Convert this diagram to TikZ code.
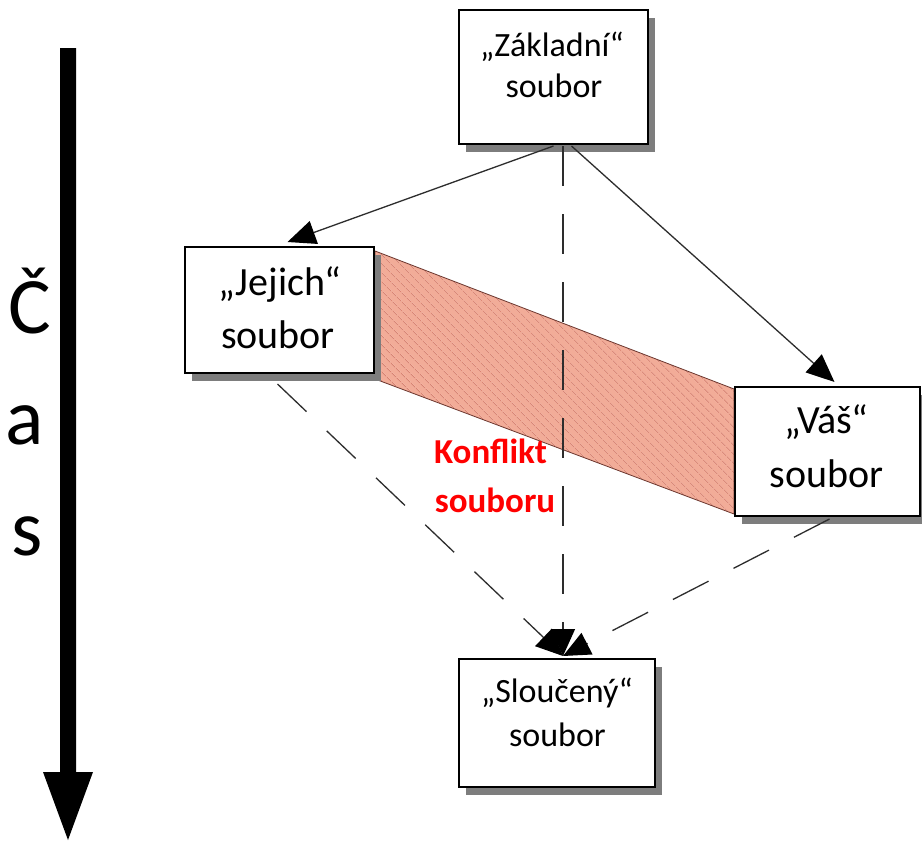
\documentclass[tikz,border=0pt]{standalone}
\usepackage{fontspec}
\setmainfont{Carlito}
\usetikzlibrary{arrows.meta,shadows,patterns.meta,calc}
\definecolor{conffill}{RGB}{242,172,152}
\definecolor{confline}{RGB}{196,100,86}
\definecolor{linegray}{RGB}{45,45,45}
\definecolor{shadowgray}{RGB}{125,125,125}
\begin{document}
\begin{tikzpicture}[x=1pt,y=-1pt,
  filebox/.style={draw=black, line width=2pt, fill=white, inner sep=0pt,
    drop shadow={shadow xshift=7pt, shadow yshift=-8pt, fill=shadowgray, opacity=1}},
  bigtxt/.style={font=\fontsize{40}{48}\selectfont, inner sep=0pt, anchor=base},
  smalltxt/.style={font=\fontsize{34}{41}\selectfont, inner sep=0pt, anchor=base},
  conftxt/.style={font=\fontsize{35}{41}\selectfont\bfseries, text=red, inner sep=0pt, anchor=base},
  timetxt/.style={font=\fontsize{80}{96}\selectfont, inner sep=0pt, anchor=base},
  solidarrow/.style={draw=linegray, line width=1.3pt,
    -{Triangle[length=28pt,width=24pt,color=black,fill=black]}},
  dasharrow/.style={draw=linegray, line width=1.3pt, dash pattern=on 40pt off 28pt,
    -{Triangle[length=27pt,width=24pt,color=black,fill=black]}}
]
\useasboundingbox (0,0) rectangle (922,841);
\fill[white] (0,0) rectangle (922,841);

% time arrow
\fill[black] (60,48) -- (76,48) -- (76,772) -- (93,772) -- (68,840) -- (43,772) -- (60,772) -- cycle;
\node[timetxt] (tC) at (30,333) {Č};
\node[timetxt] (tA) at (25,444) {a};
\node[timetxt] (tS) at (27,555) {s};

% boxes
\node[filebox, minimum width=189pt, minimum height=134pt] (zakl) at (553.5,77) {};
\node[filebox, minimum width=189pt, minimum height=126pt] (jejich) at (279.5,310) {};
\node[filebox, minimum width=185pt, minimum height=129pt] (vas) at (827.5,451.5) {};
\node[filebox, minimum width=196pt, minimum height=128pt] (slouc) at (557,723) {};

% conflict band
\path[draw=confline!55!black, line width=0.8pt, preaction={fill=conffill},
  pattern={Lines[angle=-45,distance=6.5pt,line width=0.75pt]}, pattern color=confline]
  ($(jejich.north east)+(0,5)$) -- ($(vas.north west)+(0,3)$) -- ($(vas.south west)+(0,-3)$)
  -- ($(jejich.south east)+(0,5)$) -- cycle;
\node[filebox, minimum width=189pt, minimum height=126pt] at (jejich.center) {};
\node[filebox, minimum width=185pt, minimum height=129pt] at (vas.center) {};

% texts
\node[smalltxt] (zaklA) at (552,56) {„Základní“};
\node[smalltxt] (zaklB) at (554,97) {soubor};
\node[bigtxt] (jejA) at (280,295) {„Jejich“};
\node[bigtxt] (jejB) at (278,348) {soubor};
\node[bigtxt] (vasA) at (826.5,433) {„Váš“};
\node[bigtxt] (vasB) at (826.5,487) {soubor};
\node[smalltxt] (sloA) at (557,702) {„Sloučený“};
\node[smalltxt] (sloB) at (557.5,746) {soubor};
\node[conftxt] (konA) at (490.5,463) {Konflikt};
\node[conftxt] (konB) at (495,512) {souboru};

% connectors
\coordinate (m) at ($(slouc.north)+(6,-2)$);
\draw[solidarrow] ($(zakl.south)+(0,1)$) -- ($(jejich.north)+(8,-4)$);
\draw[solidarrow] ($(zakl.south)+(18,1)$) -- ($(vas.north)+(7,-4)$);
\draw[dasharrow] ($(jejich.south)+(-2,10)$) -- (m);
\draw[dasharrow] ($(vas.south)+(2,2)$) -- (m);
\draw[dasharrow] ($(zakl.south)+(9.5,1)$) -- (m);
\end{tikzpicture}
\end{document}
